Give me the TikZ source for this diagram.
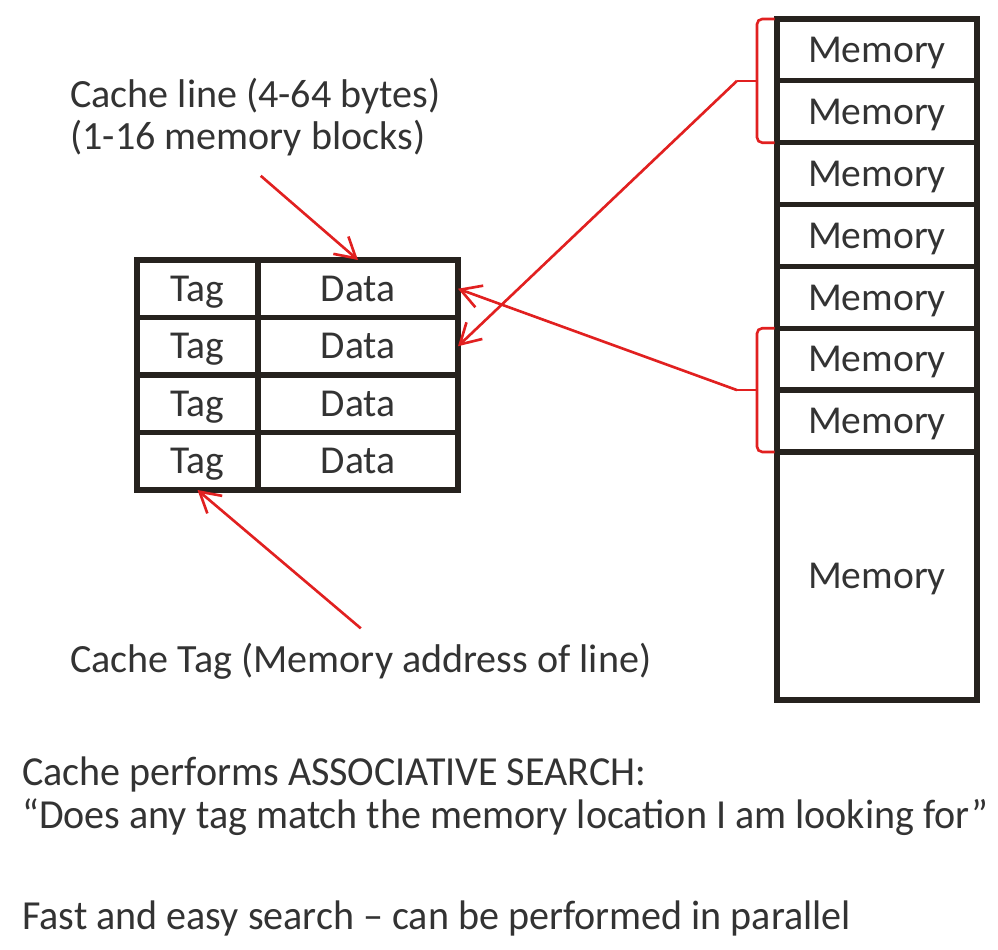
\documentclass[tikz,border=0pt]{standalone}
\usepackage{fontspec}
\setmainfont{Carlito}
\usepackage{tikz}
\usetikzlibrary{arrows.meta, positioning, calc}
\definecolor{inkgray}{RGB}{51,51,51}
\definecolor{boxline}{RGB}{38,34,30}
\definecolor{ptrred}{RGB}{225,32,32}

\begin{document}
\begin{tikzpicture}[
  cell/.style={rectangle, draw=boxline, line width=3pt, inner sep=0pt, outer sep=0pt,
               text=inkgray, font=\fontsize{22.5}{24}\selectfont, text depth=0pt, minimum height=#1},
  cell/.default={1.15cm},
  lbl/.style={inner sep=0pt, text=inkgray, font=\fontsize{22.8}{26}\selectfont},
  note/.style={inner sep=0pt, text=inkgray, font=\fontsize{23.5}{27}\selectfont, xscale=0.97},
  ptr/.style={-{Straight Barb[length=4mm, width=4.6mm]}, line width=1.5pt, ptrred},
  brace/.style={line width=1.5pt, ptrred, rounded corners=3pt},
]
  \useasboundingbox (0,0) rectangle (19.96,-19.0);

  % Cache lines
  \foreach \i in {1,...,4} {
    \node[cell, minimum width=2.42cm, anchor=north west] (tag\i) at (2.74,{-5.2-1.15*(\i-1)}) {Tag};
    \node[cell, minimum width=4cm, anchor=west] (data\i) at (tag\i.east) {Data};
  }

  % Memory
  \foreach \i in {1,...,7}
    \node[cell=1.237cm, minimum width=4cm, anchor=north west] (mem\i) at (15.54,{-0.38-1.237*(\i-1)}) {Memory};
  \node[cell=4.96cm, minimum width=4cm, anchor=north] (mem8) at (mem7.south) {Memory};

  % Braces
  \draw[brace] ([xshift=-0.05cm]mem1.north west) -- ++(-0.35,0) -- ++(0,-2.474) -- ++(0.35,0);
  \draw[brace] ([xshift=-0.4cm]mem1.south west) -- ++(-0.4,0) coordinate (tipA);
  \draw[brace] ([xshift=-0.05cm]mem6.north west) -- ++(-0.35,0) -- ++(0,-2.474) -- ++(0.35,0);
  \draw[brace] ([xshift=-0.4cm]mem6.south west) -- ++(-0.4,0) coordinate (tipB);

  % Pointers
  \draw[ptr] (tipA) -- (data2.east);
  \draw[ptr] (tipB) -- (data1.east);

  % Labels
  \node[lbl, anchor=base west] (linelbl) at (1.4,-2.16) {Cache line (4-64 bytes)};
  \node[lbl, anchor=base west] (linelbl2) at ([yshift=-0.84cm]linelbl.base west) {(1-16 memory blocks)};
  \coordinate (linestart) at ([xshift=0.26cm, yshift=-0.38cm]linelbl2.south);
  \draw[ptr] (linestart) -- (data1.north);

  \node[lbl, anchor=base west] (taglbl) at (1.4,-13.46) {Cache Tag (Memory address of line)};
  \coordinate (tagstart) at ([yshift=0.3cm]taglbl.north);
  \draw[ptr] (tagstart) -- (tag4.south);

  % Notes
  \node[note, anchor=base west] (note1) at (0.44,-15.72) {Cache performs ASSOCIATIVE SEARCH:};
  \node[note, anchor=base west] (note2) at (0.44,-16.58) {“Does any tag match the memory location I am looking for”};
  \node[note, anchor=base west] (note3) at (0.44,-18.58) {Fast and easy search -- can be performed in parallel};
\end{tikzpicture}
\end{document}
